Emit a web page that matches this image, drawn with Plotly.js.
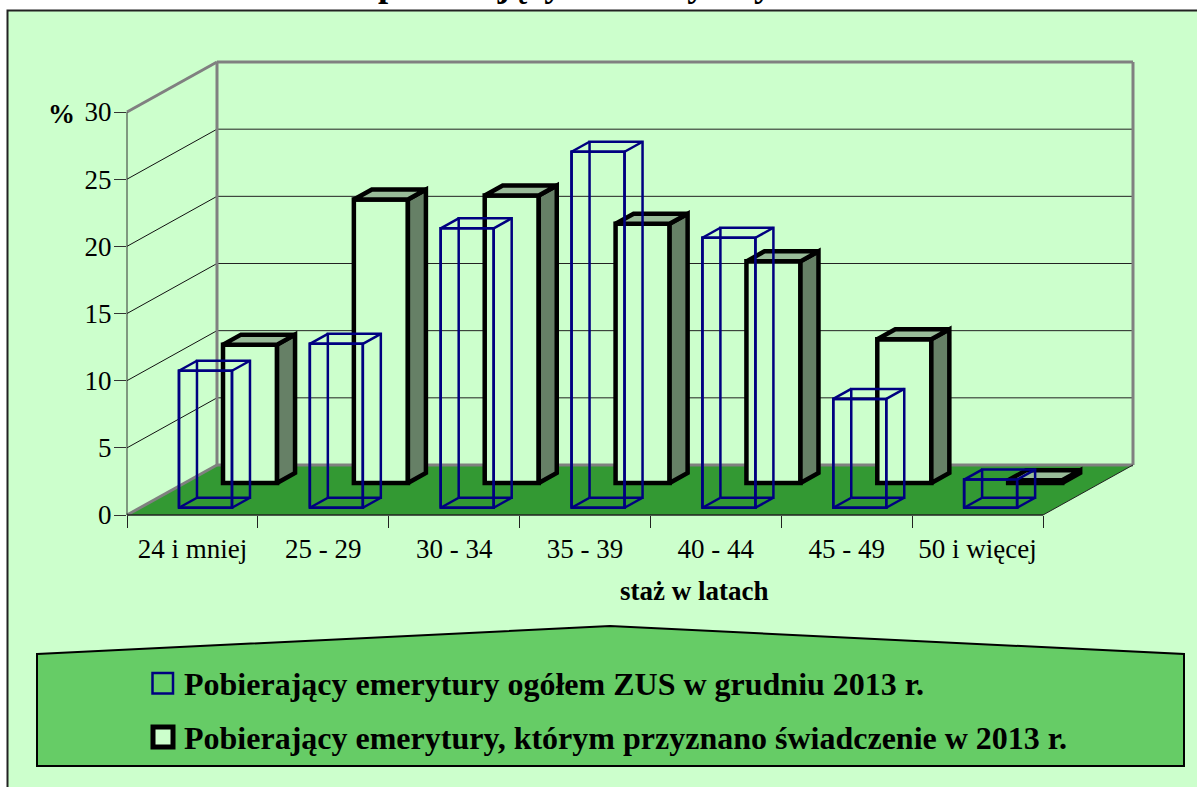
<!DOCTYPE html>
<html>
<head>
<meta charset="utf-8">
<script src="https://cdn.plot.ly/plotly-3.0.1.min.js"></script>
<style>html,body{margin:0;padding:0;background:#fff;overflow:hidden}</style>
</head>
<body>
<div id="chart" style="width:1197px;height:787px"></div>
<script>
const categories = ["24 i mniej","25 - 29","30 - 34","35 - 39","40 - 44","45 - 49","50 i więcej"];
const ogolemValues = [10.2,12.2,20.8,26.5,20.1,8.1,2.1];
const przyznaneValues = [10.3,21.1,21.4,19.3,16.5,10.7,0.2];
const yTicks = [0,5,10,15,20,25,30];
const titleText = "pobierających emerytury";
const xTitleText = "staż w latach";
const nameOgolem = "Pobierający emerytury ogółem ZUS w grudniu 2013 r.";
const namePrzyznane = "Pobierający emerytury, którym przyznano świadczenie w 2013 r.";

const W = 1197, H = 787;
const PL = 127, PR = 1133, PT = 62, PB = 515;
const unitX = 130.857, unitY = 13.433;
const xMax = (PR-PL)/unitX, yMax = (PB-PT)/unitY;
const depthX = 90/unitX, depthY = 50/unitY;
const barW = 0.413, barWBlue = 0.405, zDepth = 0.2, zBlue = 0.145, zBlack = 0.64;
const FONT = "Liberation Serif";

const px = x => (x-PL)/(PR-PL);
const py = y => (PB-y)/(PB-PT);
const dataLine = (x0,y0,x1,y1,color,width) => ({type:"line",xref:"paper",yref:"paper",layer:"below",
  x0:x0/xMax,y0:y0/yMax,x1:x1/xMax,y1:y1/yMax,line:{color:color,width:width}});

function polyPath(points){
  return "M"+points.map(p=>p[0]+","+p[1]).join("L")+"Z";
}
const toPaper = (x,y)=>[x/xMax,y/yMax];

const nCat = categories.length;
const shapes = [];
// frame
shapes.push({type:"rect",xref:"paper",yref:"paper",layer:"below",x0:px(7.5),x1:px(1230),y0:py(10.5),y1:py(820),
  fillcolor:"#ccffcc",line:{color:"#222222",width:2}});
// floor
shapes.push({type:"path",xref:"paper",yref:"paper",layer:"below",
  path:polyPath([toPaper(0,0),toPaper(nCat,0),toPaper(nCat+depthX,depthY),toPaper(depthX,depthY)]),
  fillcolor:"#339933",line:{width:0}});
// grid
yTicks.slice(1,-1).forEach(v=>{
  shapes.push(dataLine(0,v,depthX,v+depthY,"#111111",1));
  shapes.push(dataLine(depthX,v+depthY,nCat+depthX,v+depthY,"#222222",1));
});
// gray walls
const GR="#808080";
const yTop=yTicks[yTicks.length-1];
shapes.push(dataLine(0,yTop,depthX,yTop+depthY,GR,3));
shapes.push(dataLine(depthX,yTop+depthY,nCat+depthX,yTop+depthY,GR,3));
shapes.push(dataLine(depthX,depthY,depthX,yTop+depthY,GR,3));
shapes.push(dataLine(nCat+depthX,depthY,nCat+depthX,yTop+depthY,GR,3));
shapes.push(dataLine(0,0,depthX,depthY,GR,3));
shapes.push(dataLine(depthX,depthY,nCat+depthX,depthY,GR,3));
// axes
shapes.push(dataLine(0,0,0,yTop,"#333333",1));
shapes.push(dataLine(0,0,nCat,0,"#222222",1.5));
shapes.push(dataLine(nCat,0,nCat+depthX,depthY,"#222222",1));
// legend box
shapes.push({type:"path",xref:"paper",yref:"paper",layer:"below",
  path:polyPath([[px(37),py(654)],[px(610),py(626)],[px(1184),py(654)],[px(1184),py(766)],[px(37),py(766)]]),
  fillcolor:"#66cc66",line:{color:"#000000",width:2}});
// legend keys
shapes.push({type:"rect",xref:"paper",yref:"paper",x0:px(152.5),x1:px(173),y0:py(673),y1:py(693.5),
  fillcolor:"rgba(0,0,0,0)",line:{color:"#000080",width:2.5}});
shapes.push({type:"rect",xref:"paper",yref:"paper",x0:px(153),x1:px(173),y0:py(727),y1:py(747),
  fillcolor:"#ccffcc",line:{color:"#000000",width:5}});

const centers = categories.map((_,i)=>i+0.5);

function sideFaces(values,z){
  const xs=[],ys=[];const bx=z*depthX,by=z*depthY,dx=zDepth*depthX,dy=zDepth*depthY;
  values.forEach((v,i)=>{
    const r=i+0.5+barW/2+bx;
    xs.push(r,r+dx,r+dx,r,r,null);
    ys.push(by,by+dy,by+dy+v,by+v,by,null);
  });
  return {x:xs,y:ys};
}
function topFaces(values,z){
  const xs=[],ys=[];const bx=z*depthX,by=z*depthY,dx=zDepth*depthX,dy=zDepth*depthY;
  values.forEach((v,i)=>{
    const l=i+0.5-barW/2+bx,r=l+barW,t=by+v;
    xs.push(l,r,r+dx,l+dx,l,null);
    ys.push(t,t,t+dy,t+dy,t,null);
  });
  return {x:xs,y:ys};
}
function wires(values,z){
  const xs=[],ys=[];const bx=z*depthX,by=z*depthY,dx=zDepth*depthX,dy=zDepth*depthY;
  values.forEach((v,i)=>{
    const l=i+0.5-barWBlue/2+bx,r=l+barWBlue,t=by+v;
    xs.push(l,r,r,l,l,null, l+dx,r+dx,r+dx,l+dx,l+dx,null, l,l+dx,null, r,r+dx,null, r,r+dx,null, l,l+dx,null);
    ys.push(by,by,t,t,by,null, by+dy,by+dy,t+dy,t+dy,by+dy,null, by,by+dy,null, by,by+dy,null, t,t+dy,null, t,t+dy,null);
  });
  return {x:xs,y:ys};
}

const traces = [
  {type:"bar",name:namePrzyznane,x:centers.map(c=>c+zBlack*depthX),y:przyznaneValues,base:categories.map(()=>zBlack*depthY),
   width:barW,marker:{color:"#ccffcc",line:{color:"#000000",width:4.5}},hoverinfo:"y+name"},
  {type:"bar",name:nameOgolem,x:centers.map(c=>c+zBlue*depthX),y:ogolemValues,base:categories.map(()=>zBlue*depthY),
   width:barWBlue,marker:{color:"rgba(0,0,0,0)",line:{color:"#000080",width:2.5}},hoverinfo:"y+name"}
];

const s = sideFaces(przyznaneValues,zBlack);
traces.push({type:"scatter",mode:"lines",x:s.x,y:s.y,fill:"toself",fillcolor:"#668066",line:{color:"#000000",width:4.5},hoverinfo:"skip",showlegend:false});
const t = topFaces(przyznaneValues,zBlack);
traces.push({type:"scatter",mode:"lines",x:t.x,y:t.y,fill:"toself",fillcolor:"#99bb99",line:{color:"#000000",width:4.5},hoverinfo:"skip",showlegend:false});
const w = wires(ogolemValues,zBlue);
traces.push({type:"scatter",mode:"lines",x:w.x,y:w.y,line:{color:"#000080",width:2.5},hoverinfo:"skip",showlegend:false});

const ann = (text,x,y,size,bold,anchor) => ({xref:"paper",yref:"paper",x:px(x),y:py(y),xanchor:anchor||"left",yanchor:"middle",
  showarrow:false,text:bold?"<b>"+text+"</b>":text,font:{family:FONT,size:size,color:"#000000"},borderpad:0,borderwidth:0});

const layout = {
  width:W,height:H,autosize:false,showlegend:false,barmode:"overlay",
  paper_bgcolor:"#ffffff",plot_bgcolor:"rgba(0,0,0,0)",
  margin:{l:PL,r:W-PR,t:PT,b:H-PB,pad:0},
  font:{family:FONT,color:"#000000"},
  xaxis:{range:[0,xMax],tickmode:"array",tickvals:centers,ticktext:categories,ticks:"outside",ticklen:10,tickcolor:"rgba(0,0,0,0)",
    tickfont:{family:FONT,size:27,color:"#000000"},showgrid:false,zeroline:false,showline:false,automargin:false,fixedrange:true,
    minor:{tickmode:"array",tickvals:categories.map((_,i)=>i).concat([nCat]),ticks:"outside",ticklen:12,tickcolor:"#222222",tickwidth:1,showgrid:false}},
  yaxis:{range:[0,yMax],tickmode:"array",tickvals:yTicks,ticktext:yTicks.map(String),ticks:"outside",ticklen:12,tickcolor:"#333333",tickwidth:1,ticklabelstandoff:-3,
    tickfont:{family:FONT,size:27,color:"#000000"},showgrid:false,zeroline:false,showline:false,automargin:false,fixedrange:true},
  shapes:shapes,
  annotations:[
    ann(titleText,378,-17,36.5,true),
    ann(xTitleText,694,591,27,true,"center"),
    ann("%",48,114,27,true),
    ann(nameOgolem,184,684,32,true),
    ann(namePrzyznane,184,738,32,true)
  ]
};
Plotly.newPlot("chart",traces,layout,{displayModeBar:false,staticPlot:true});
</script>
</body>
</html>
